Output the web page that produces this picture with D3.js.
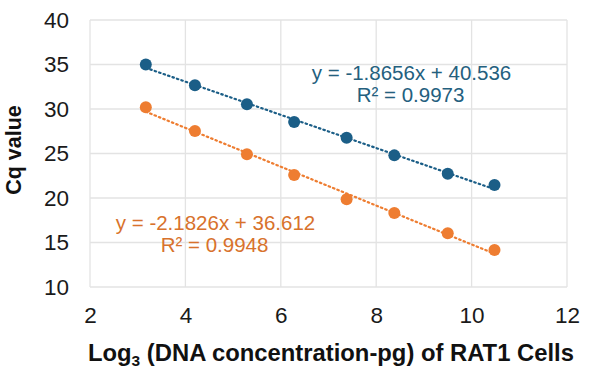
<!DOCTYPE html>
<meta charset="utf-8">
<style>
  body { margin: 0; background: #fff; }
  text { font-family: "Liberation Sans", Arial, sans-serif; }
  .grid line { stroke: #e3e3e3; stroke-width: 1.3px; }
  .trend { fill: none; stroke-width: 2.2px; stroke-dasharray: 1.5 3.2; stroke-linecap: round; }
</style>
<body>
<script src="https://d3js.org/d3.v7.min.js"></script>
<script>
  // data
  var xValues = [3.17, 4.20, 5.29, 6.28, 7.38, 8.38, 9.50, 10.48];
  var blueCq = [35.0, 32.66, 30.53, 28.54, 26.78, 24.79, 22.73, 21.46];
  var orangeCq = [30.19, 27.53, 24.91, 22.58, 19.85, 18.31, 16.03, 14.16];
  var xTicks = [2, 4, 6, 8, 10, 12];
  var yTicks = [10, 15, 20, 25, 30, 35, 40];
  // trendline labels from the chart
  var blueFit = { slope: -1.8656, intercept: 40.536, label: "y = -1.8656x + 40.536", r2: "R² = 0.9973" };
  var orangeFit = { slope: -2.1826, intercept: 36.612, label: "y = -2.1826x + 36.612", r2: "R² = 0.9948" };

  var margin = { top: 20, right: 24, bottom: 85, left: 90 },
    width = 591 - margin.left - margin.right,
    height = 372 - margin.top - margin.bottom;

  var x = d3.scaleLinear().domain([2, 12]).range([0, width]);
  var y = d3.scaleLinear().domain([10, 40]).range([height, 0]);

  var svg = d3.select("body").append("svg")
    .attr("width", 591)
    .attr("height", 372);
  var g = svg.append("g")
    .attr("transform", "translate(" + margin.left + "," + margin.top + ")");

  // gridlines
  g.append("g").attr("class", "grid")
    .selectAll("line").data(yTicks).enter().append("line")
    .attr("x1", 0).attr("x2", width)
    .attr("y1", function (d) { return y(d); }).attr("y2", function (d) { return y(d); });
  g.append("g").attr("class", "grid")
    .selectAll("line").data(xTicks).enter().append("line")
    .attr("y1", 0).attr("y2", height)
    .attr("x1", function (d) { return x(d); }).attr("x2", function (d) { return x(d); });

  // axes (labels only)
  var xAxis = g.append("g")
    .attr("transform", "translate(0," + height + ")")
    .call(d3.axisBottom(x).tickValues(xTicks).tickSize(0).tickPadding(20));
  var yAxis = g.append("g")
    .call(d3.axisLeft(y).tickValues(yTicks).tickSize(0).tickPadding(21));
  [xAxis, yAxis].forEach(function (a) {
    a.select(".domain").remove();
    a.selectAll("text")
      .style("font-family", "'Liberation Sans', Arial, sans-serif")
      .style("font-size", "22.5px")
      .attr("fill", "#1a1a1a");
  });

  function plotSeries(vals, fit, color, textColor, lx, ly) {
    var first = xValues[0], last = xValues[xValues.length - 1];
    var trend = [first, last].map(function (v) { return [v, fit.slope * v + fit.intercept]; });
    g.append("path")
      .datum(trend)
      .attr("class", "trend")
      .attr("stroke", color)
      .attr("d", d3.line()
        .x(function (d) { return x(d[0]); })
        .y(function (d) { return y(d[1]); }));

    g.selectAll(null).data(vals).enter().append("circle")
      .attr("cx", function (d, i) { return x(xValues[i]); })
      .attr("cy", function (d) { return y(d); })
      .attr("r", 6)
      .attr("fill", color);

    var t = g.append("text")
      .attr("text-anchor", "middle")
      .attr("fill", textColor)
      .style("font-size", "20.5px");
    t.append("tspan").attr("x", lx).attr("y", ly).text(fit.label);
    t.append("tspan").attr("x", lx - 1).attr("y", ly + 21.5).text(fit.r2);
  }

  plotSeries(blueCq, blueFit, "#1b5e87", "#24607e", 321.5, 60);
  plotSeries(orangeCq, orangeFit, "#ee7d31", "#d8722c", 125.5, 210);

  // axis titles
  svg.append("text")
    .attr("transform", "translate(21,150) rotate(-90)")
    .attr("text-anchor", "middle")
    .style("font-size", "21.5px")
    .style("font-weight", "bold")
    .attr("fill", "#111")
    .text("Cq value");

  var xt = svg.append("text")
    .attr("x", 88).attr("y", 361)
    .attr("text-anchor", "start")
    .style("font-size", "23.8px")
    .style("font-weight", "bold")
    .attr("fill", "#111");
  xt.append("tspan").text("Log");
  xt.append("tspan").attr("dy", 5).style("font-size", "15.5px").text("3");
  xt.append("tspan").attr("dy", -5).text(" (DNA concentration-pg) of RAT1 Cells");
</script>
</body>
